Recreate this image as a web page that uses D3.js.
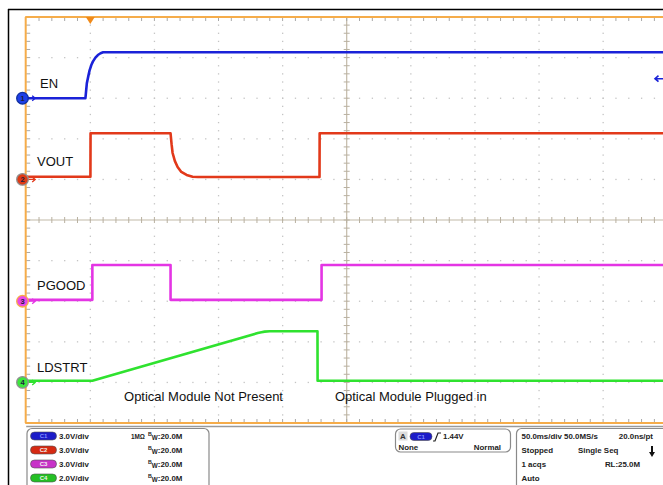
<!DOCTYPE html>
<html><head><meta charset="utf-8">
<script src="https://cdn.jsdelivr.net/npm/d3@7/dist/d3.min.js"></script>
<style>html,body{margin:0;padding:0;background:#fff;overflow:hidden}svg{display:block;font-family:Arial,"Liberation Sans",sans-serif}</style>
</head><body><svg id="c" width="663" height="485"></svg>
<script>
// ---------- data ----------
const channelNames = ["EN", "VOUT", "PGOOD", "LDSTRT"];
const channelIds = ["C1", "C2", "C3", "C4"];
const voltsPerDiv = [3, 3, 3, 2];
const offsetDiv = [3, 1, -2, -4];
const scaleLabels = ["3.0V/div", "3.0V/div", "3.0V/div", "2.0V/div"];
const impedanceLabels = ["1MΩ", "", "", ""];
const bwLabels = ["20.0M", "20.0M", "20.0M", "20.0M"];
const timeDomain = [-50, 450]; // ms, 50 ms/div, trigger at 0
const triggerLevel = 1.44;

const enT = [-50, -3.8, -3.3, -2.7, -1.5, -0.5, 0.8, 2.0, 4.0, 5.9, 8.0, 10.0, 450];
const enV = [0, 0, 0.5, 1.1, 1.65, 2.08, 2.45, 2.7, 3.0, 3.19, 3.32, 3.39, 3.4];
const voutT = [-50, 0.1, 0.2, 62.6, 63.4, 64.2, 66.0, 68.1, 71.0, 75.1, 79.8, 84.0, 178.8, 178.9, 450];
const voutV = [0.2, 0.2, 3.41, 3.41, 2.6, 1.95, 1.35, 0.92, 0.55, 0.33, 0.2, 0.18, 0.18, 3.41, 3.41];
const pgoodT = [-50, 1.6, 1.6, 62.6, 62.6, 180.4, 180.4, 450];
const pgoodV = [0.1, 0.1, 2.67, 2.67, 0.1, 0.1, 2.67, 2.67];
const ldT = [-50, 1.6, 130.6, 133.5, 136.0, 140.0, 177.2, 177.3, 450];
const ldV = [0.08, 0.08, 2.43, 2.47, 2.5, 2.52, 2.52, 0.08, 0.08];

const annotations = ["Optical Module Not Present", "Optical Module Plugged in"];
const annotationTimes = [26.3, 190.8];

const timebaseRows = [["50.0ms/div 50.0MS/s", "20.0ns/pt"], ["Stopped", "Single Seq"], ["1 acqs", "RL:25.0M"], ["Auto", ""]];
const triggerRows = [["None", "Normal"]];

// ---------- layout ----------
const svg = d3.select("#c");
const gx0 = 26.2, divW = 64.1, gy0 = 17, divH = 40.6;
const x = d3.scaleLinear().domain(timeDomain).range([gx0, gx0 + 10 * divW]);
const yd = d3.scaleLinear().domain([-5, 5]).range([gy0 + 10 * divH, gy0]);
const colors = ["#1a22d8", "#e2391a", "#e435e4", "#2fe22f"];
const markerFill = ["#1f3fe8", "#e03a14", "#e848e8", "#3ce83c"];
const badgeFill = ["#1c1cc8", "#d62a12", "#c832c8", "#24c024"];
const orange = "#f5ac4a";
const fs = 7.9;

// outer frame
svg.append("line").attr("x1", 8.5).attr("x2", 8.5).attr("y1", 9).attr("y2", 485).attr("stroke", "#000").attr("stroke-width", 1.5);
svg.append("line").attr("x1", 8).attr("x2", 663).attr("y1", 9.5).attr("y2", 9.5).attr("stroke", "#000").attr("stroke-width", 1.5);

const grid = svg.append("g");
const yr = yd.range();
// dotted grid
for (let i = 1; i < 10; i++) {
  if (i === 5) continue;
  const gxv = gx0 + i * divW;
  for (let j = 1; j < 50; j++) {
    grid.append("rect").attr("x", gxv - 0.6).attr("y", gy0 + j * divH / 5 - 0.6).attr("width", 1.3).attr("height", 1.3).attr("fill", "#c4c4c4");
  }
  const gyv = gy0 + i * divH;
  for (let j = 1; j < 50; j++) {
    grid.append("rect").attr("x", gx0 + j * divW / 5 - 0.6).attr("y", gyv - 0.6).attr("width", 1.3).attr("height", 1.3).attr("fill", "#c4c4c4");
  }
}
// center cross
const cx = gx0 + 5 * divW, cy = gy0 + 5 * divH;
grid.append("line").attr("x1", gx0).attr("x2", 663).attr("y1", cy).attr("y2", cy).attr("stroke", "#c2baa8").attr("stroke-width", 1.2);
grid.append("line").attr("x1", cx).attr("x2", cx).attr("y1", gy0).attr("y2", yr[0]).attr("stroke", "#c2baa8").attr("stroke-width", 1.2);
for (let j = 1; j < 50; j++) {
  const tx = gx0 + j * divW / 5;
  grid.append("line").attr("x1", tx).attr("x2", tx).attr("y1", cy - 3).attr("y2", cy + 3).attr("stroke", "#b8b0a0");
  const ty = gy0 + j * divH / 5;
  grid.append("line").attr("x1", cx - 3).attr("x2", cx + 3).attr("y1", ty).attr("y2", ty).attr("stroke", "#b8b0a0");
  grid.append("line").attr("x1", tx).attr("x2", tx).attr("y1", gy0).attr("y2", gy0 + 4).attr("stroke", "#a8a8a8");
  grid.append("line").attr("x1", tx).attr("x2", tx).attr("y1", yr[0] - 4).attr("y2", yr[0]).attr("stroke", "#a8a8a8");
  grid.append("line").attr("x1", gx0).attr("x2", gx0 + 4).attr("y1", ty).attr("y2", ty).attr("stroke", "#a8a8a8");
}
// orange border
grid.append("line").attr("x1", gx0 - 1).attr("x2", 663).attr("y1", gy0).attr("y2", gy0).attr("stroke", orange).attr("stroke-width", 2);
grid.append("line").attr("x1", gx0 - 1).attr("x2", 663).attr("y1", yr[0]).attr("y2", yr[0]).attr("stroke", orange).attr("stroke-width", 2.2);
grid.append("line").attr("x1", gx0 - 0.5).attr("x2", gx0 - 0.5).attr("y1", gy0).attr("y2", yr[0]).attr("stroke", orange).attr("stroke-width", 2);
grid.append("line").attr("x1", gx0).attr("x2", 663).attr("y1", yr[0] + 3.5).attr("y2", yr[0] + 3.5).attr("stroke", "#9a9a9a").attr("stroke-width", 1.3);
// trigger position marker
const tx0 = x(0);
svg.append("path").attr("d", `M${tx0 - 4.5},${gy0} L${tx0 + 4.5},${gy0} L${tx0},${gy0 + 7} Z`).attr("fill", "#f08a1a");

// traces
svg.append("clipPath").attr("id", "clip").append("rect").attr("x", gx0).attr("y", gy0).attr("width", 663 - gx0).attr("height", yr[0] - gy0);
const series = [[enT, enV], [voutT, voutV], [pgoodT, pgoodV], [ldT, ldV]];
series.forEach(([ts, vs], i) => {
  const pts = ts.map((t, k) => [t, vs[k]]);
  const line = d3.line().x(d => x(d[0])).y(d => yd(offsetDiv[i] + d[1] / voltsPerDiv[i]));
  svg.append("path").attr("d", line(pts)).attr("fill", "none").attr("stroke", colors[i]).attr("stroke-width", 2.6)
    .attr("stroke-linejoin", "round").attr("clip-path", "url(#clip)");
});

// channel ground markers
channelNames.forEach((n, i) => {
  const my = yd(offsetDiv[i]);
  svg.append("path").attr("d", `M${gx0 + 2},${my} L${gx0 + 9},${my} M${gx0 + 6},${my - 2.5} L${gx0 + 9},${my} L${gx0 + 6},${my + 2.5}`)
    .attr("stroke", colors[i]).attr("stroke-width", 1.3).attr("fill", "none");
  svg.append("circle").attr("cx", 22.5).attr("cy", my).attr("r", 5.8).attr("fill", markerFill[i])
    .attr("stroke", i === 2 ? orange : (i === 0 ? "#1030a0" : "#909090")).attr("stroke-width", 1.3);
  svg.append("text").attr("x", 22.5).attr("y", my + 2.6).attr("text-anchor", "middle").attr("font-size", 7.5).attr("font-weight", "bold")
    .attr("fill", "#202040").text(i + 1);
});
// trigger level indicator
const tly = yd(offsetDiv[0] + triggerLevel / voltsPerDiv[0]);
svg.append("path").attr("d", `M663,${tly} L655,${tly} M658.5,${tly - 3} L655,${tly} L658.5,${tly + 3}`).attr("stroke", colors[0]).attr("stroke-width", 1.6).attr("fill", "none");

// channel labels
const labelY = [87.5, 166, 289.5, 372];
channelNames.forEach((n, i) => {
  svg.append("text").attr("x", i === 0 ? 40 : 37).attr("y", labelY[i]).attr("font-size", 13).attr("fill", "#111").text(n);
});
annotations.forEach((a, i) => {
  svg.append("text").attr("x", x(annotationTimes[i])).attr("y", 401).attr("font-size", 13).attr("fill", "#111").text(a);
});

// ---------- bottom panel ----------
const rowY = [438.5, 452.5, 466.5, 480.5];
svg.append("rect").attr("x", 27).attr("y", 428.5).attr("width", 182).attr("height", 70).attr("rx", 5).attr("fill", "#fff").attr("stroke", "#8a8a8a").attr("stroke-width", 1.2);
channelIds.forEach((c, i) => {
  const by = rowY[i] - 6.5;
  svg.append("rect").attr("x", 30.5).attr("y", by).attr("width", 26).attr("height", 8).attr("rx", 4).attr("fill", badgeFill[i]).attr("stroke", "#505050").attr("stroke-width", 0.6);
  svg.append("text").attr("x", 43.5).attr("y", by + 6.3).attr("text-anchor", "middle").attr("font-size", 6).attr("font-weight", "bold").attr("fill", i === 0 ? "#8090ff" : "#f0f0f0").text(c);
  svg.append("text").attr("x", 59).attr("y", rowY[i]).attr("font-size", fs).attr("font-weight", "bold").attr("fill", "#222").text(scaleLabels[i]);
  if (impedanceLabels[i]) svg.append("text").attr("x", 131).attr("y", rowY[i]).attr("font-size", fs).attr("font-weight", "bold").attr("fill", "#222")
    .attr("textLength", 14).attr("lengthAdjust", "spacingAndGlyphs").text(impedanceLabels[i]);
  const t = svg.append("text").attr("x", 148).attr("y", rowY[i]).attr("font-weight", "bold").attr("fill", "#222");
  t.append("tspan").attr("font-size", 5.3).attr("dy", -2.5).text("B");
  t.append("tspan").attr("font-size", 6.3).attr("dy", 4).text("W");
  t.append("tspan").attr("font-size", fs).attr("dy", -1.5).text(":" + bwLabels[i]);
});

// trigger box
svg.append("rect").attr("x", 395.5).attr("y", 429).attr("width", 115).attr("height", 23).attr("rx", 5).attr("fill", "#fff").attr("stroke", "#8a8a8a").attr("stroke-width", 1.2);
svg.append("rect").attr("x", 398.5).attr("y", 431.5).attr("width", 9).attr("height", 9).attr("fill", "#dcdcdc");
svg.append("text").attr("x", 403).attr("y", 439).attr("text-anchor", "middle").attr("font-size", 8).attr("font-weight", "bold").attr("fill", "#333").text("A");
svg.append("rect").attr("x", 410).attr("y", 432.5).attr("width", 22).attr("height", 8).attr("rx", 4).attr("fill", badgeFill[0]).attr("stroke", "#505050").attr("stroke-width", 0.6);
svg.append("text").attr("x", 421).attr("y", 438.8).attr("text-anchor", "middle").attr("font-size", 6).attr("font-weight", "bold").attr("fill", "#8090ff").text(channelIds[0]);
svg.append("path").attr("d", "M433,441 L435,441 L438,433 L441,433").attr("stroke", "#222").attr("stroke-width", 1.2).attr("fill", "none");
svg.append("text").attr("x", 443).attr("y", 438.5).attr("font-size", fs).attr("font-weight", "bold").attr("fill", "#222").text(triggerLevel.toFixed(2) + "V");
svg.append("text").attr("x", 398.5).attr("y", 449.5).attr("font-size", fs).attr("font-weight", "bold").attr("fill", "#222").text(triggerRows[0][0]);
svg.append("text").attr("x", 501).attr("y", 449.5).attr("text-anchor", "end").attr("font-size", fs).attr("font-weight", "bold").attr("fill", "#222").text(triggerRows[0][1]);

// timebase box
svg.append("rect").attr("x", 516.5).attr("y", 428.5).attr("width", 160).attr("height", 70).attr("rx", 5).attr("fill", "#fff").attr("stroke", "#8a8a8a").attr("stroke-width", 1.2);
timebaseRows.forEach((r, i) => {
  svg.append("text").attr("x", 521.5).attr("y", rowY[i]).attr("font-size", fs).attr("font-weight", "bold").attr("fill", "#222").text(r[0]);
});
svg.append("text").attr("x", 653).attr("y", rowY[0]).attr("text-anchor", "end").attr("font-size", fs).attr("font-weight", "bold").attr("fill", "#222").text(timebaseRows[0][1]);
svg.append("text").attr("x", 578).attr("y", rowY[1]).attr("font-size", fs).attr("font-weight", "bold").attr("fill", "#222").text(timebaseRows[1][1]);
svg.append("text").attr("x", 640).attr("y", rowY[2]).attr("text-anchor", "end").attr("font-size", fs).attr("font-weight", "bold").attr("fill", "#222").text(timebaseRows[2][1]);
// stop arrow
svg.append("path").attr("d", "M652,446 L652,453").attr("stroke", "#111").attr("stroke-width", 2);
svg.append("path").attr("d", "M649,452 L655,452 L652,457 Z").attr("fill", "#111");
</script></body></html>
